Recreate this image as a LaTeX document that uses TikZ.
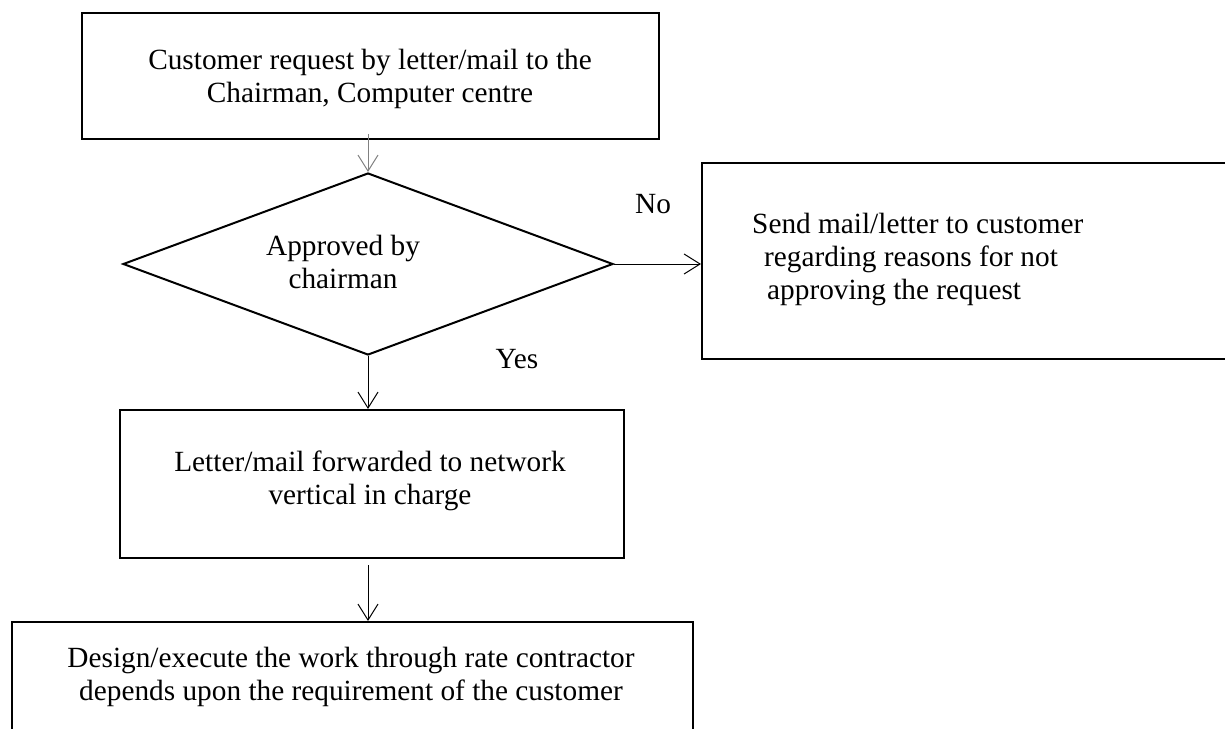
\documentclass[tikz,border=0pt]{standalone}
\usepackage{fontspec}
\setmainfont{Liberation Serif}
\usetikzlibrary{shapes.geometric,arrows.meta}
\begin{document}
\begin{tikzpicture}[x=1pt,y=-1pt,
  txt/.style={font=\fontsize{29.3}{33}\selectfont,inner sep=0pt},
  box/.style={draw,line width=2pt,inner sep=0pt},
  conn/.style={line width=1pt,-{Straight Barb[length=16pt,width=20pt,line width=1pt]}}]
\clip (0,0) rectangle (1225,728);
\useasboundingbox (0,0) rectangle (1225,728);
\node[box,minimum width=577pt,minimum height=126pt] (b1) at (370.5,76) {};
\node[txt,align=center] (b1t) at (370,79) {Customer request by letter/mail to the\\Chairman, Computer centre};
\node[draw,diamond,line width=2pt,inner sep=0pt,minimum width=490pt,minimum height=182pt,shape aspect=2.69] (d) at (368,264) {};
\node[txt,align=center] (dt) at (343,262) {Approved by\\chairman};
\node[box,minimum width=530pt,minimum height=196pt] (rb) at (967,261) {};
\node[txt,align=left,anchor=west] (rt) at (752,259)
  {Send mail/letter to customer\\\hspace{12pt}regarding reasons for not\\\hspace{15pt}approving the request};
\node[box,minimum width=504pt,minimum height=148pt] (b3) at (372,484) {};
\node[txt,align=center] (b3t) at (370,481) {Letter/mail forwarded to network\\vertical in charge};
\node[box,minimum width=681pt,minimum height=130pt] (b4) at (352.5,687) {};
\node[txt,align=center] (b4t) at (351,677) {Design/execute the work through rate contractor\\depends upon the requirement of the customer};
\node[txt,anchor=base] (no) at (653,213) {No};
\node[txt,anchor=base] (yes) at (517,368) {Yes};
\coordinate (a4) at (368,565);
\draw[conn,draw=gray] (b1.south -| d.north) ++(0,-6) -- (d.north);
\draw[conn] (d.east) -- (d.east -| rb.west);
\draw[conn] (d.south) -- (d.south |- b3.north);
\draw[conn] (a4) -- (a4 |- b4.north);
\end{tikzpicture}
\end{document}
